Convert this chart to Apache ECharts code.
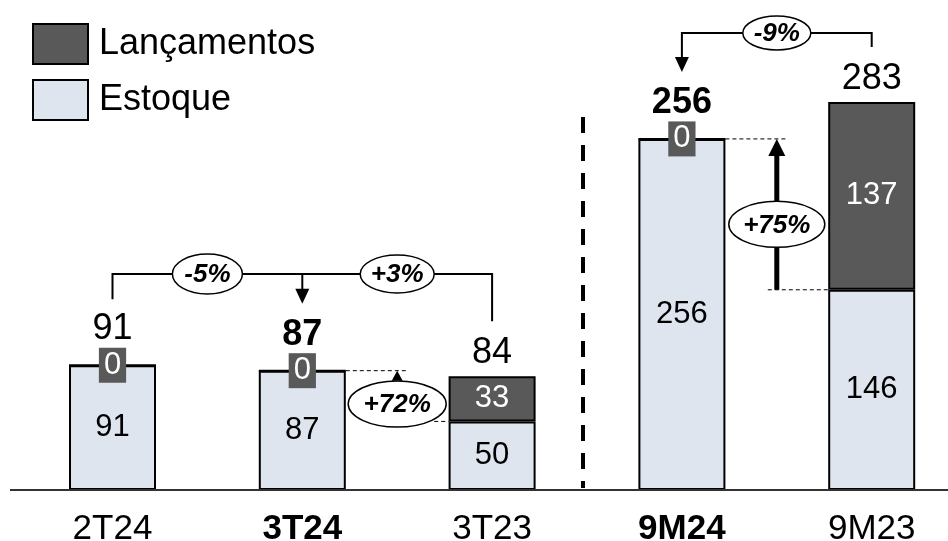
<!DOCTYPE html>
<html>
<head>
<meta charset="utf-8">
<script src="https://cdn.jsdelivr.net/npm/echarts@6/dist/echarts.min.js"></script>
<style>html,body{margin:0;padding:0;background:#fff}#main{width:948px;height:541px}</style>
</head>
<body>
<div id="main"></div>
<script>
// ---- data ----
const categories = ['2T24', '3T24', '3T23', '9M24', '9M23'];
const boldCategories = ['3T24', '9M24'];
const estoque = [91, 87, 50, 256, 146];
const lancamentos = [0, 0, 33, 0, 137];
const totals = [91, 87, 84, 256, 283];
const boldTotals = ['3T24', '9M24'];
const totalAnchor = [0, 0, 0, 0, 0];
// comparisons
const bracketLow = { ends: [0, 2], target: 1, labels: ['-5%', '+3%'] };
const bracketTop = { start: 4, target: 3, label: '-9%' };
const gapQuarter = { from: 1, to: 2, label: '+72%' };
const gapNineMonths = { from: 3, to: 4, label: '+75%' };

const FONT = '"Liberation Sans", Arial, Helvetica, sans-serif';
const chart = echarts.init(document.getElementById('main'), null, { renderer: 'canvas' });

chart.setOption({
  animation: false,
  backgroundColor: '#fff',
  textStyle: { fontFamily: FONT },
  legend: {
    data: ['Lançamentos', 'Estoque'],
    orient: 'vertical', left: 32, top: 23, padding: 0,
    icon: 'rect',
    itemWidth: 55, itemHeight: 40, itemGap: 14,
    selectedMode: false,
    itemStyle: { borderColor: '#000', borderWidth: 2 },
    textStyle: { fontSize: 36, color: '#000', fontFamily: FONT, padding: [6, 0, 0, 6] }
  },
  grid: { left: 17.6, top: 10, width: 949, height: 480, outerBoundsMode: 'none', containLabel: false },
  xAxis: {
    type: 'category', data: categories,
    axisLine: { show: false }, axisTick: { show: false },
    axisLabel: {
      margin: 22, fontSize: 35, color: '#000', fontFamily: FONT,
      formatter: v => boldCategories.includes(v) ? '{b|' + v + '}' : v,
      rich: { b: { fontWeight: 'bold', fontSize: 35, color: '#000', fontFamily: FONT } }
    }
  },
  yAxis: { type: 'value', min: 0, max: 350, show: false, splitLine: { show: false } },
  series: [
    {
      name: 'Estoque', type: 'bar', stack: 'a', data: estoque, barWidth: 87,
      itemStyle: { color: '#dee5ef', borderColor: '#000', borderWidth: 2 },
      label: { show: true, position: 'inside', fontSize: 31, color: '#000', fontFamily: FONT }
    },
    {
      name: 'Lançamentos', type: 'bar', stack: 'a', data: lancamentos, barWidth: 87,
      itemStyle: { color: '#595959', borderColor: '#000', borderWidth: 2 },
      label: {
        show: true, position: 'inside', fontSize: 31, color: '#fff', fontFamily: FONT,
        backgroundColor: '#595959', padding: [2, 5, 2, 5], lineHeight: 31
      }
    },
    {
      name: 'Total', type: 'bar', stack: 'a', barWidth: 87,
      data: totalAnchor.map((v, i) => ({ value: v, label: { distance: lancamentos[i] === 0 ? 18 : 5 } })),
      itemStyle: { color: 'rgba(0,0,0,0)', borderWidth: 0 }, z: 3,
      label: {
        show: true, position: 'top', fontSize: 36, color: '#000', fontFamily: FONT,
        formatter: p => boldTotals.includes(categories[p.dataIndex]) ? '{b|' + totals[p.dataIndex] + '}' : String(totals[p.dataIndex]),
        rich: { b: { fontWeight: 'bold', fontSize: 36, color: '#000', fontFamily: FONT } }
      }
    }
  ]
});

// ---- annotations placed through the chart's own scales ----
const P = (i, v) => chart.convertToPixel({ xAxisIndex: 0, yAxisIndex: 0 }, [i, v]);
const half = 43.5;
const base = P(0, 0)[1];
const stackTop = i => P(i, estoque[i] + lancamentos[i])[1];
const g = [];
const line = (pts, opt) => g.push({ type: 'polyline', shape: { points: pts }, style: Object.assign({ stroke: '#000', lineWidth: 2, fill: null }, opt || {}), z: 10 });
const tri = (x, y, w, h, dir) => g.push({ type: 'polygon', shape: { points: dir === 'down' ? [[x - w / 2, y - h], [x + w / 2, y - h], [x, y]] : [[x - w / 2, y + h], [x + w / 2, y + h], [x, y]] }, style: { fill: '#000' }, z: 11 });
const oval = (cx, cy, rx, ry, text) => {
  g.push({ type: 'ellipse', shape: { cx, cy, rx, ry }, style: { fill: '#fff', stroke: '#000', lineWidth: 1.5 }, z: 12 });
  g.push({ type: 'text', x: cx, y: cy + 1, style: { text, align: 'center', verticalAlign: 'middle', fontFamily: FONT, fontSize: 26, fontWeight: 'bold', fontStyle: 'italic', fill: '#000' }, z: 13 });
};

// axis line
g.push({ type: 'line', shape: { x1: 10, y1: base, x2: 948, y2: base }, style: { stroke: '#333', lineWidth: 2 }, z: 9 });

// separator between quarterly and nine-month figures
const sepX = (P(2, 0)[0] + P(3, 0)[0]) / 2 - 4;
g.push({ type: 'line', shape: { x1: sepX, y1: 117, x2: sepX, y2: base - 2 }, style: { stroke: '#000', lineWidth: 4, lineDash: [16, 12] }, z: 9 });

// low bracket
{
  const [a, b] = bracketLow.ends, t = bracketLow.target;
  const xa = P(a, 0)[0], xb = P(b, 0)[0], xt = P(t, 0)[0];
  const y = 274;
  line([[xa, stackTop(a) - 66], [xa, y], [xb, y], [xb, stackTop(b) - 55]]);
  const tip = stackTop(t) - 67;
  line([[xt, y], [xt, tip - 10]]);
  tri(xt, tip, 14, 15, 'down');
  oval((xa + xt) / 2, y, 35, 20, bracketLow.labels[0]);
  oval((xt + xb) / 2, y, 37, 19, bracketLow.labels[1]);
}
// top bracket
{
  const s = bracketTop.start, t = bracketTop.target;
  const xs = P(s, 0)[0], xt = P(t, 0)[0];
  const y = 33;
  const tip = stackTop(t) - 67;
  line([[xs, stackTop(s) - 55], [xs, y], [xt, y], [xt, tip - 10]]);
  tri(xt, tip, 14, 15, 'down');
  oval((xs + xt) / 2, y, 34, 17, bracketTop.label);
}
// +72% gap (estoque levels)
{
  const f = gapQuarter.from, t = gapQuarter.to;
  const yHigh = P(f, estoque[f])[1], yLow = P(t, estoque[t])[1];
  const xr = P(f, 0)[0] + half, xl = P(t, 0)[0] - half;
  const xm = (xr + xl) / 2;
  line([[xr, yHigh], [xm + 11, yHigh]], { lineWidth: 1, lineDash: [4, 3] });
  line([[xm + 37, yLow], [xl, yLow]], { lineWidth: 1, lineDash: [4, 3] });
  tri(xm, yHigh, 11, 10, 'up');
  oval(xm, (yHigh + yLow) / 2 + 8, 49, 23, gapQuarter.label);
}
// +75% gap
{
  const f = gapNineMonths.from, t = gapNineMonths.to;
  const yHigh = P(f, estoque[f])[1], yLow = P(t, estoque[t])[1];
  const xr = P(f, 0)[0] + half, xl = P(t, 0)[0] - half;
  const xm = (xr + xl) / 2;
  line([[xr, yHigh], [xm + 9, yHigh]], { lineWidth: 1, lineDash: [4, 3] });
  line([[xm - 9, yLow], [xl, yLow]], { lineWidth: 1, lineDash: [4, 3] });
  line([[xm, yLow], [xm, yHigh + 14]], { lineWidth: 5 });
  tri(xm, yHigh, 17, 17, 'up');
  oval(xm, (yHigh + yLow) / 2 + 10, 48, 23, gapNineMonths.label);
}

chart.setOption({ graphic: { elements: g } });
</script>
</body>
</html>
